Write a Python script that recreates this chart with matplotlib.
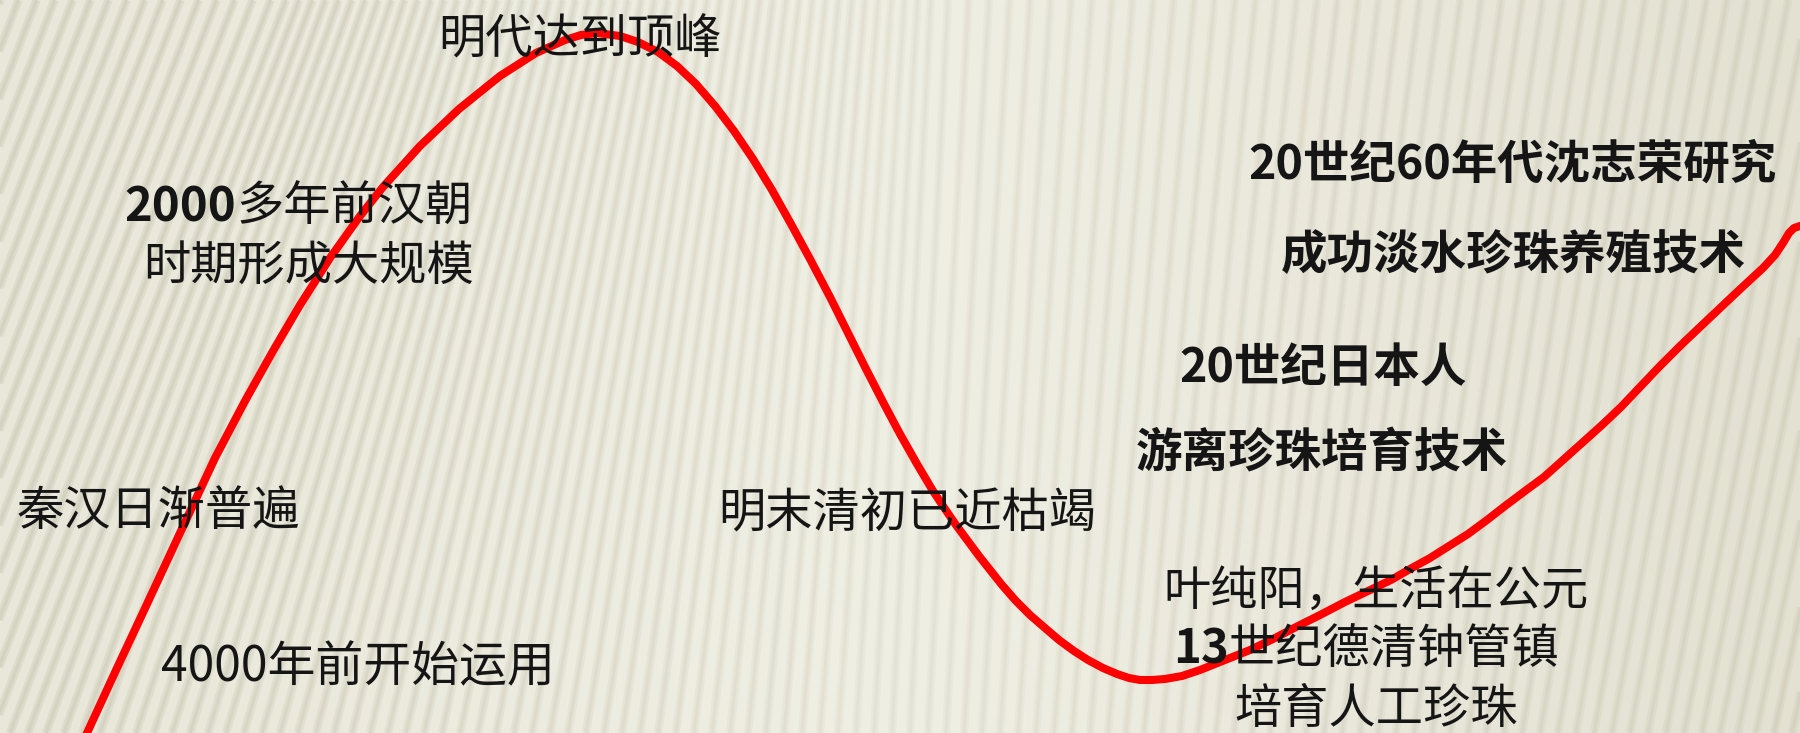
import numpy as np
import matplotlib
matplotlib.use("Agg")
import matplotlib.pyplot as plt

plt.rcParams['font.family'] = ['Noto Sans CJK SC', 'DejaVu Sans']

# ---- data: the red trend curve (x: time axis, y: depth from top) ----
curve_x = [80, 87, 117, 147, 180, 215, 245, 273, 300, 330, 360, 383, 420, 459, 500,
           536, 565, 581, 597, 620, 638, 658, 677, 696, 715, 734, 753, 772, 791,
           810, 830, 848, 865, 883, 900, 917, 933, 945, 956, 979, 1002, 1016, 1030,
           1045, 1059, 1074, 1088, 1103, 1117, 1129, 1140, 1152, 1165, 1182, 1200,
           1225, 1250, 1273, 1296, 1320, 1345, 1368, 1391, 1410, 1430, 1449, 1468,
           1487, 1505, 1525, 1544, 1563, 1582, 1602, 1621, 1640, 1659, 1680, 1700,
           1718, 1736, 1750, 1763, 1775, 1783, 1789, 1794, 1800, 1806]
curve_depth = [748, 733, 668, 604, 533, 458, 401, 351, 305, 258, 216, 187, 146, 109, 76,
               53, 40, 35, 33, 36, 42, 52, 66, 84, 106, 131, 159, 190, 224,
               259, 297, 333, 367, 402, 434, 464, 491, 509, 525, 556, 585, 601, 615,
               628, 640, 651, 660, 668, 674, 678, 680, 680, 679, 676, 670,
               660, 650, 639, 627, 615, 602, 591, 580, 569, 558, 546, 534,
               520, 506, 491, 477, 460, 443, 425, 407, 387, 367, 346, 327,
               310, 293, 280, 268, 255, 243, 233, 228, 226, 226]

# ---- annotation texts ----
labels_plain = [
    ("明代达到顶峰", 580, 40),
    ("时期形成大规模", 309, 267),
    ("秦汉日渐普遍", 158, 512),
    ("明末清初已近枯竭", 907, 514),
    ("叶纯阳，生活在公元", 1376, 592),
    ("培育人工珍珠", 1376, 710),
]
labels_mixed = [  # (bold part, regular part, split x, y)
    ("2000", "多年前汉朝", 236, 208),
    ("13", "世纪德清钟管镇", 1229, 650),
]
labels_deco = [
    ("20世纪60年代沈志荣研究", 1512, 165),
    ("成功淡水珍珠养殖技术", 1513, 255),
    ("20世纪日本人", 1323, 368),
    ("游离珍珠培育技术", 1322, 453),
]
label_light = ("4000年前开始运用", 358, 668)

W, H = 1800, 733
fig = plt.figure(figsize=(18, 7.33), dpi=100)

# background gradient + stripes
bg = fig.add_axes([0, 0, 1, 1])
bg.set_axis_off()
c_left = np.array([0xE8, 0xE7, 0xD9]) / 255
c_mid = np.array([0xF0, 0xEF, 0xE4]) / 255
c_right = np.array([0xE3, 0xE1, 0xD2]) / 255
xs = np.linspace(0, 1, 200)
grad = np.zeros((1, 200, 3))
for k in range(3):
    grad[0, :, k] = np.interp(xs, [0, 0.5, 1], [c_left[k], c_mid[k], c_right[k]])
bg.imshow(grad, extent=[0, W, H, 0], aspect='auto')
ys = np.linspace(0, H, 40)
for x0 in np.arange(-350, 2000, 18):
    s = np.interp(x0, [0, 900, 1800], [0.38, 0.05, 0.22])
    a = np.interp(x0, [0, 900, 1800], [1.7, 0.7, 1.3])
    xx = x0 + s * (H - ys)
    bg.plot(xx, ys, color='#C4C1AC', lw=6, alpha=0.17 * a, solid_capstyle='butt')
    bg.plot(xx, ys, color='#C4C1AC', lw=2.5, alpha=0.2 * a, solid_capstyle='butt')
bg.set_xlim(0, W)
bg.set_ylim(H, 0)

# main axes
ax = fig.add_axes([0, 0, 1, 1])
ax.set_axis_off()
ax.patch.set_alpha(0)
ax.set_xlim(0, W)
ax.set_ylim(H, 0)
ax.plot(curve_x, curve_depth, color='#FF0000', lw=5.8, solid_capstyle='round',
        solid_joinstyle='round')

txt_kw = dict(color='#151515', va='center')
for s, x, y in labels_plain:
    ax.text(x, y, s, ha='center', fontsize=34, **txt_kw)
for b, r, x, y in labels_mixed:
    ax.text(x, y, b, ha='right', fontsize=34, fontweight='bold', **txt_kw)
    ax.text(x, y, r, ha='left', fontsize=34, **txt_kw)
for s, x, y in labels_deco:
    ax.text(x, y, s, ha='center', fontsize=33.5, fontweight='bold', **txt_kw)
s, x, y = label_light
ax.text(x, y, s, ha='center', fontsize=34.5, **txt_kw)

fig.savefig("out.png", dpi=100)
